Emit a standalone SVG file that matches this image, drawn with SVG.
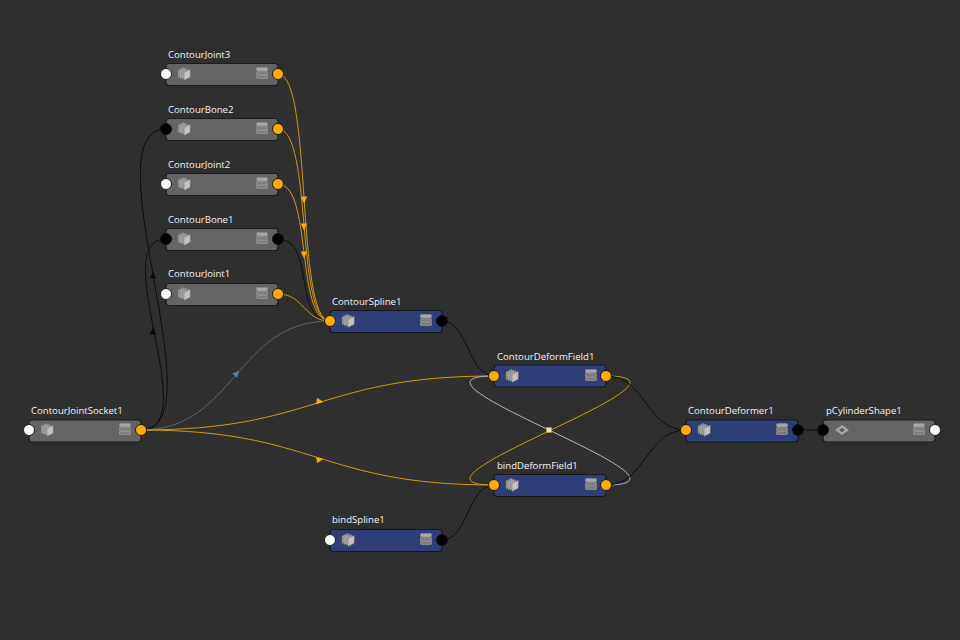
<svg xmlns="http://www.w3.org/2000/svg" width="960" height="640" viewBox="0 0 960 640">
<style>
.g{fill:#646464;stroke:#1c1c1c;stroke-width:1.2}
.b{fill:#2e3f78;stroke:#15171f;stroke-width:1.2}
.l{font-family:"Open Sans","Noto Sans",sans-serif;font-size:9.600px;fill:#f2f5fa}
.py{fill:#ffab00;stroke:#1a1a1a;stroke-width:1}
.pk{fill:#000;stroke:#111;stroke-width:1}
.pw{fill:#fff;stroke:#1a1a1a;stroke-width:1}
.c{fill:none;stroke-width:1}
.yl{stroke:#d09810}
.bk{stroke:#0c0c0c}
.tl{stroke:#4a6c78}
.wh{stroke:#b8b8b8}
.ay{fill:#f0ad0c}
.ak{fill:#0c0c0c}
.at{fill:#4f8296}
.pg{stroke:#6a6a6a;stroke-width:.5}
</style>
<defs>
<g id="ic">
<path class="pg" fill="#a0a0a0" d="M-6.500,4 L-0.500,1 L-0.500,-7 L-6.500,-4Z"/>
<path class="pg" fill="#b0b0b0" d="M-4.500,4.800 L1.500,1.800 L1.500,-6.200 L-4.500,-3.200Z"/>
<path class="pg" fill="#a8a8a8" d="M-2.500,5.600 L3.500,2.600 L3.500,-5.400 L-2.500,-2.400Z"/>
<path class="pg" fill="#c4c4c4" d="M-0.500,6.400 L5.800,3.200 L5.800,-4.800 L-0.500,-1.600Z"/>
</g>
<g id="ib" stroke-width=".8">
<rect x="-5.500" y="-5.500" width="11" height="3.600" rx="1" fill="#a8a8a8" stroke="#888"/>
<rect x="-5.500" y="-1.200" width="11" height="3" rx=".6" fill="#7c7c7c" stroke="#9a9a9a"/>
<rect x="-5.500" y="2.400" width="11" height="3" rx=".6" fill="#7c7c7c" stroke="#9a9a9a"/>
</g>
<g id="id">
<path d="M-7,0 L-3,-2.800 L0,-5 L3,-2.800 L7,0 L3,2.800 L0,5 L-3,2.800Z" fill="#a8a8a8"/>
<path d="M-3,0 L0,-2.200 L3,0 L0,2.200Z" fill="#5c5c5c"/>
</g>
<path id="ar" d="M-3.300,-6.500 L3.300,-6.500 L0,0.500Z"/>
</defs>
<rect width="960" height="640" fill="#2f2f2f"/>
<g id="connectors">
<path class="c bk" d="M141,430 C220,430 88,129 166,129"/>
<path class="c bk" d="M141,430 C205,430 105,239 166,239"/>
<path class="c bk" d="M278,239 C316,239 292,321 330,321"/>
<path class="c yl" d="M278,294 C304,294 304,321 330,321"/>
<path class="c yl" d="M278,74 C313,74 295,321 330,321"/>
<path class="c yl" d="M278,129 C313,129 295,321 330,321"/>
<path class="c yl" d="M278,184 C313,184 295,321 330,321"/>
<path class="c tl" d="M141,430 C235,430 236,321 330,321"/>
<path class="c yl" d="M141,430 C317,430 318,376 494,376"/>
<path class="c yl" d="M141,430 C317,430 318,485 494,485"/>
<path class="c bk" d="M442,321 C468,321 468,376 494,376"/>
<path class="c bk" d="M442,540 C468,540 468,485 494,485"/>
<path class="c wh" d="M606,485 C721,485 379,376 494,376"/>
<path class="c yl" d="M606,376 C721,376 379,485 494,485"/>
<path class="c bk" d="M606,376 C646,376 646,430 686,430"/>
<path class="c bk" d="M606,485 C646,485 646,430 686,430"/>
<path class="c bk" d="M798,430 L823,430"/>
<use href="#ar" class="ak" transform="translate(153,272) rotate(180)"/>
<use href="#ar" class="ak" transform="translate(153,328) rotate(180)"/>
<use href="#ar" class="ay" transform="translate(304,203)"/>
<use href="#ar" class="ay" transform="translate(304,230)"/>
<use href="#ar" class="ay" transform="translate(304,258)"/>
<use href="#ar" class="at" transform="translate(239,371) rotate(-138)"/>
<use href="#ar" class="ay" transform="translate(323,402) rotate(-82)"/>
<use href="#ar" class="ay" transform="translate(323,459) rotate(-98)"/>
<rect x="546.500" y="427.500" width="5" height="5" fill="#e8e2c8" stroke="#c9a020" stroke-width=".6"/>
</g>
<g id="ContourJoint3">
<rect class="g" x="166" y="63.500" width="112" height="22" rx="3"/>
<text class="l" x="168" y="58">ContourJoint3</text>
<use href="#ic" x="184.500" y="74"/><use href="#ib" x="262" y="73"/>
<circle class="pw" cx="166" cy="74" r="5.500"/><circle class="py" cx="278" cy="74" r="5.500"/>
</g>
<g id="ContourBone2">
<rect class="g" x="166" y="118.500" width="112" height="22" rx="3"/>
<text class="l" x="168" y="113">ContourBone2</text>
<use href="#ic" x="184.500" y="129"/><use href="#ib" x="262" y="128"/>
<circle class="pk" cx="166" cy="129" r="5.500"/><circle class="py" cx="278" cy="129" r="5.500"/>
</g>
<g id="ContourJoint2">
<rect class="g" x="166" y="173.500" width="112" height="22" rx="3"/>
<text class="l" x="168" y="168">ContourJoint2</text>
<use href="#ic" x="184.500" y="184"/><use href="#ib" x="262" y="183"/>
<circle class="pw" cx="166" cy="184" r="5.500"/><circle class="py" cx="278" cy="184" r="5.500"/>
</g>
<g id="ContourBone1">
<rect class="g" x="166" y="228.500" width="112" height="22" rx="3"/>
<text class="l" x="168" y="223">ContourBone1</text>
<use href="#ic" x="184.500" y="239"/><use href="#ib" x="262" y="238"/>
<circle class="pk" cx="166" cy="239" r="5.500"/><circle class="pk" cx="278" cy="239" r="5.500"/>
</g>
<g id="ContourJoint1">
<rect class="g" x="166" y="283.500" width="112" height="22" rx="3"/>
<text class="l" x="168" y="277">ContourJoint1</text>
<use href="#ic" x="184.500" y="294"/><use href="#ib" x="262" y="293"/>
<circle class="pw" cx="166" cy="294" r="5.500"/><circle class="py" cx="278" cy="294" r="5.500"/>
</g>
<g id="ContourSpline1">
<rect class="b" x="330" y="310.500" width="112" height="22" rx="3"/>
<text class="l" x="332" y="305">ContourSpline1</text>
<use href="#ic" x="348.500" y="321"/><use href="#ib" x="426" y="320"/>
<circle class="py" cx="330" cy="321" r="5.500"/><circle class="pk" cx="442" cy="321" r="5.500"/>
</g>
<g id="ContourJointSocket1">
<rect class="g" x="29" y="420" width="112" height="22" rx="3"/>
<text class="l" x="31" y="414">ContourJointSocket1</text>
<use href="#ic" x="47.500" y="430"/><use href="#ib" x="125" y="429"/>
<circle class="pw" cx="29" cy="430" r="5.500"/><circle class="py" cx="141" cy="430" r="5.500"/>
</g>
<g id="ContourDeformField1">
<rect class="b" x="494" y="365" width="112" height="22" rx="3"/>
<text class="l" x="497" y="360">ContourDeformField1</text>
<use href="#ic" x="512.500" y="376"/><use href="#ib" x="591" y="375"/>
<circle class="py" cx="494" cy="376" r="5.500"/><circle class="py" cx="606" cy="376" r="5.500"/>
</g>
<g id="bindDeformField1">
<rect class="b" x="494" y="474.500" width="112" height="22" rx="3"/>
<text class="l" x="497" y="469">bindDeformField1</text>
<use href="#ic" x="512.500" y="485"/><use href="#ib" x="591" y="484"/>
<circle class="py" cx="494" cy="485" r="5.500"/><circle class="py" cx="606" cy="485" r="5.500"/>
</g>
<g id="bindSpline1">
<rect class="b" x="330" y="529.500" width="112" height="22" rx="3"/>
<text class="l" x="332" y="523">bindSpline1</text>
<use href="#ic" x="348.500" y="540"/><use href="#ib" x="426" y="539"/>
<circle class="pw" cx="330" cy="540" r="5.500"/><circle class="pk" cx="442" cy="540" r="5.500"/>
</g>
<g id="ContourDeformer1">
<rect class="b" x="686" y="420" width="112" height="22" rx="3"/>
<text class="l" x="688" y="414">ContourDeformer1</text>
<use href="#ic" x="704.500" y="430"/><use href="#ib" x="782" y="429"/>
<circle class="py" cx="686" cy="430" r="5.500"/><circle class="pk" cx="798" cy="430" r="5.500"/>
</g>
<g id="pCylinderShape1">
<rect class="g" x="823" y="420" width="112" height="22" rx="3"/>
<text class="l" x="826" y="414">pCylinderShape1</text>
<use href="#id" x="842" y="430"/><use href="#ib" x="919" y="429"/>
<circle class="pk" cx="823" cy="430" r="5.500"/><circle class="pw" cx="935" cy="430" r="5.500"/>
</g>
</svg>
